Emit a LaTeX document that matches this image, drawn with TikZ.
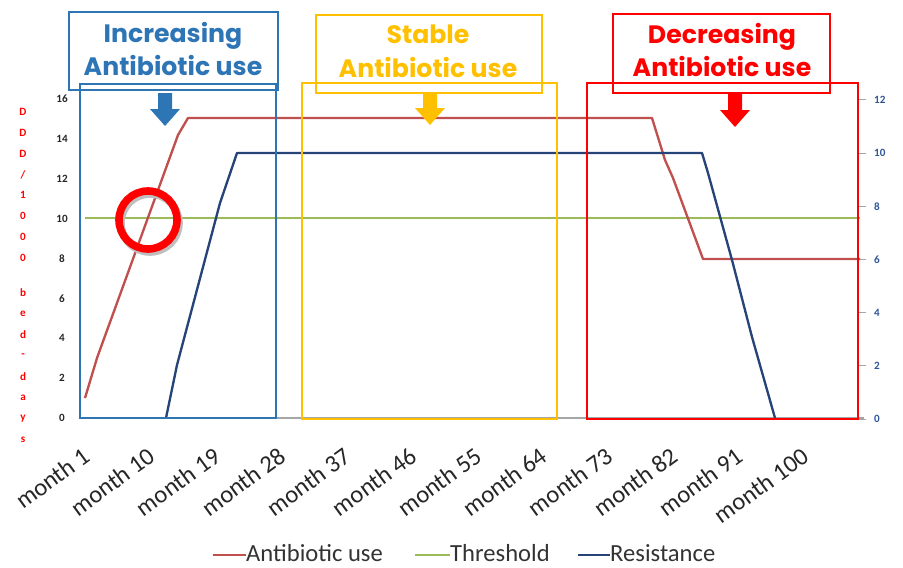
\documentclass[tikz,border=0pt]{standalone}
\usepackage{fontspec}
\setmainfont{Carlito}
\newfontfamily\titlefont{Poppins}
\usetikzlibrary{positioning}

\definecolor{incblue}{HTML}{2E75B6}
\definecolor{stabgold}{HTML}{FFC000}
\definecolor{decred}{HTML}{FF0000}
\definecolor{usered}{HTML}{C0504D}
\definecolor{threshgreen}{HTML}{9BBB59}
\definecolor{resblue}{HTML}{264478}
\definecolor{rightnum}{HTML}{2F5597}
\definecolor{axisgray}{HTML}{A6A6A6}

\tikzset{
  axisnum/.style={font=\fontsize{9.5}{9.5}\selectfont\bfseries, inner sep=0pt},
  monthlbl/.style={font=\fontsize{21}{21}\selectfont, text=black!85, rotate=36, anchor=north east, inner sep=0pt},
  stackletter/.style={font=\fontsize{9.5}{9.5}\selectfont\bfseries, text=decred, inner sep=0pt},
  phasebox/.style={line width=2.4pt},
  titlebox/.style={line width=1.8pt},
  phasetitle/.style={font=\titlefont\fontsize{21.5}{29}\selectfont\bfseries, align=center, inner sep=0pt},
  dataline/.style={line width=2pt, line join=round},
  legendtxt/.style={font=\fontsize{21}{21}\selectfont, text=black!80, anchor=base west, inner sep=0pt},
  downblock/.pic={\fill (-7,0) -- (7,0) -- (7,16) -- (15,16) -- (0,33) -- (-15,16) -- (-7,16) -- cycle;}
}

\begin{document}
\begin{tikzpicture}[x=0.3mm, y=-0.3mm]
\useasboundingbox (0,0) rectangle (903,567);

% category axis
\draw[axisgray, line width=1.2pt] (80,418) -- (864,418);

% left axis numbers
\foreach \v in {0,2,...,16}
  \node[axisnum, text=black!85] (l\v) at (62, {418-\v*19.94}) {\v};
% right axis ticks and numbers
\foreach \v in {0,2,...,12} {
  \draw[axisgray, line width=0.8pt] (859, {419-\v*26.6}) -- (866, {419-\v*26.6});
  \node[axisnum, text=rightnum, anchor=west] (r\v) at (874, {419-\v*26.6}) {\v};
}

% left axis title, one letter per line
\foreach \ch [count=\i] in {D,D,D,/,1,0,0,0}
  \node[stackletter] (ya\i) at (23, {112+(\i-1)*20.8}) {\ch};
\foreach \ch [count=\i] in {b,e,d,-,d,a,y,s}
  \node[stackletter] (yb\i) at (23, {293+(\i-1)*21}) {\ch};

% month labels
\foreach \m in {1,10,...,100}
  \node[monthlbl] (m\m) at ({80+(\m-0.5)*7.26-2}, 446) {month \m};

% data
\draw[threshgreen, dataline] (85,218) -- (860,218);
\draw[usered, dataline] (85,398) -- (97,358) -- (178,135) -- (188,118) -- (652,118)
  -- (665,160) -- (673,178) -- (703,259) -- (860,259);
\draw[resblue, dataline] (166,418) -- (177,365) -- (220,203) -- (237,153) -- (702,153)
  -- (708,173) -- (732,260) -- (752,337) -- (775,418);

% phase boxes
\draw[incblue, phasebox] (80,84) rectangle (276,418);
\draw[stabgold, phasebox] (302,83) rectangle (557,419);
\draw[decred, phasebox] (587,83) rectangle (858,419);

\draw[incblue, titlebox] (69,12) rectangle (278,90);
\draw[stabgold, titlebox] (316,15) rectangle (542,93);
\draw[decred, titlebox] (613,14) rectangle (830,93);

\node[phasetitle, text=incblue] (inc) at (173,49) {Increasing\\Antibiotic use};
\node[phasetitle, text=stabgold] (stab) at (428,51) {Stable\\Antibiotic use};
\node[phasetitle, text=decred] (dec) at (722,50) {Decreasing\\Antibiotic use};

% arrows into the boxes
\pic[incblue] at (165,93) {downblock};
\pic[stabgold] at (430,92) {downblock};
\pic[decred] at (735,94) {downblock};

% crossing marker
\draw[black!25, line width=6.5pt] (150,223) circle (29);
\draw[decred, line width=6.5pt] (148,220) circle (29);

% legend
\node[legendtxt] (lg1) at (246,561) {Antibiotic use};
\node[legendtxt] (lg2) at (450,561) {Threshold};
\node[legendtxt] (lg3) at (610,561) {Resistance};
\coordinate (s1) at (213,555);
\coordinate (s2) at (415,555);
\coordinate (s3) at (578,555);
\draw[usered, line width=2pt] (s1) -- (s1 -| lg1.west);
\draw[threshgreen, line width=2pt] (s2) -- (s2 -| lg2.west);
\draw[resblue, line width=2pt] (s3) -- (s3 -| lg3.west);
\end{tikzpicture}
\end{document}
